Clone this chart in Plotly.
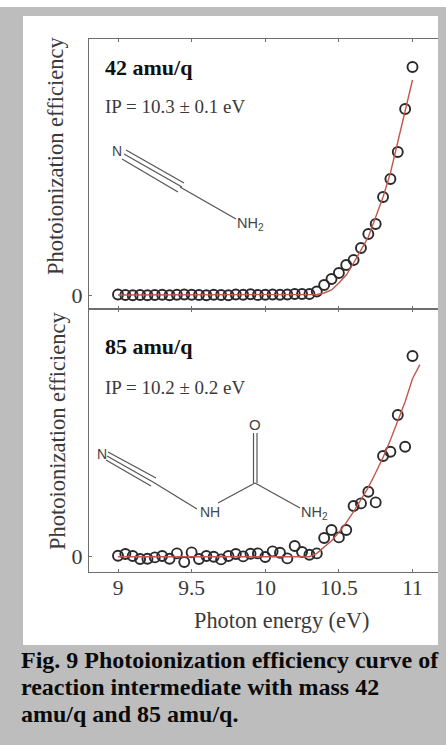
import plotly.graph_objects as go
from plotly.subplots import make_subplots

W, H = 446, 745

energy = [9.0, 9.05, 9.1, 9.15, 9.2, 9.25, 9.3, 9.35, 9.4, 9.45, 9.5, 9.55, 9.6, 9.65, 9.7, 9.75, 9.8,
          9.85, 9.9, 9.95, 10.0, 10.05, 10.1, 10.15, 10.2, 10.25, 10.3, 10.35, 10.4, 10.45, 10.5,
          10.55, 10.6, 10.65, 10.7, 10.75, 10.8, 10.85, 10.9, 10.95, 11.0]
pie_42 = [0.5, 0, -0.3, 0, -0.3, 0, 0.3, -0.3, 0.3, 0.5, 0.3, 0, -0.3, 0.3, 0, -0.3, 0.5, 0.3, 0.7, 0, 0.3,
          0.5, 0.3, 0.5, 1, 1, 1, 3.5, 10, 16, 22, 30, 35, 47, 61, 71, 98, 116, 143, 186, 228]
pie_85 = [1, 2.7, 0.7, -2.3, -2, -0.7, 0.7, -2, 3.3, -5.3, 4.3, -2.3, 0.7, 0, -2.7, 0.7, 2.7, 0.3, 3, 3.3,
          -0.3, 5.3, 4, -1.7, 10.7, 4.7, 2, 3.3, 18.7, 26.7, 19.3, 26.7, 50.7, 53.3, 65, 54.3, 100.7,
          105, 141.7, 110, 200.7]
fit_x_42 = [9.0, 10.25, 10.3, 10.35, 10.4, 10.45, 10.5, 10.55, 10.6, 10.65, 10.7, 10.75, 10.8, 10.85,
            10.9, 10.95, 11.0]
fit_y_42 = [0, 0, 0, 0.5, 2, 5, 12, 20, 32, 45, 58, 78, 98, 122, 152, 185, 215]
fit_x_85 = [9.0, 10.3, 10.35, 10.4, 10.45, 10.5, 10.55, 10.6, 10.65, 10.7, 10.75, 10.8, 10.85, 10.9,
            10.95, 11.0, 11.05]
fit_y_85 = [0, 0, 3.3, 9.3, 16, 24.3, 34, 45, 56.7, 69.3, 84, 99.3, 116.7, 135, 155, 178, 192]
x_ticks = [9, 9.5, 10, 10.5, 11]
x_tick_labels = ["9", "9.5", "10", "10.5", "11"]

GREY, AXIS, INK = "#bdbdbd", "#6e6e6e", "#3a3a3a"
SERIF = "Liberation Serif"
SANS = "Liberation Sans"


def px(x):
    return x / W


def py(y):
    return 1 - y / H


fig = make_subplots(rows=2, cols=1)
fig.update_layout(
    width=W, height=H, margin=dict(l=0, r=0, t=0, b=0), autosize=False,
    paper_bgcolor="white", plot_bgcolor="rgba(0,0,0,0)", showlegend=False,
)

panels = [(1, pie_42, fit_x_42, fit_y_42), (2, pie_85, fit_x_85, fit_y_85)]
for row, pie, fx, fy in panels:
    fig.add_trace(go.Scatter(x=energy, y=pie, mode="markers",
                             marker=dict(symbol="circle-open", size=10, color="#2a2a2a",
                                         line=dict(width=1.9, color="#2a2a2a"))), row=row, col=1)
    fig.add_trace(go.Scatter(x=fx, y=fy, mode="lines", line=dict(color="#c4574c", width=1.4)), row=row, col=1)

axis_style = dict(showgrid=False, zeroline=False, showline=True, linecolor=AXIS, linewidth=1.2,
                  ticks="inside", ticklen=3, tickwidth=1.2, tickcolor=AXIS)
x_range = [9 - 29 / 147.25, 11 + 25.5 / 147.25]
x_dom = [px(89), px(438)]
fig.update_xaxes(range=x_range, domain=x_dom, mirror="ticks", tickvals=x_ticks, **axis_style)
fig.update_xaxes(showticklabels=False, row=1, col=1)
fig.update_xaxes(ticktext=x_tick_labels, showticklabels=True, ticklabelstandoff=-4,
                 tickfont=dict(family=SERIF, size=21.5, color=INK), row=2, col=1)
y_font = dict(family=SERIF, size=22, color=INK)
fig.update_yaxes(range=[-14, 256], domain=[py(309), py(39)], tickvals=[0], ticktext=["0"],
                 tickfont=y_font, ticklabelstandoff=1, row=1, col=1, **axis_style)
fig.update_yaxes(range=[-15.3, 247.7], domain=[py(572), py(309)], tickvals=[0], ticktext=["0"],
                 tickfont=y_font, ticklabelstandoff=1, row=2, col=1, **axis_style)

shapes = [
    dict(type="rect", xref="paper", yref="paper", x0=0, x1=1, y0=0, y1=py(7), fillcolor=GREY,
         line_width=0, layer="below"),
    dict(type="rect", xref="paper", yref="paper", x0=px(23), x1=px(438), y0=py(645), y1=py(16),
         fillcolor="white", line_width=0, layer="below"),
]
bonds = [
    (126, 150, 184, 183), (124, 154, 182, 187), (122, 159, 178, 192), (180, 187, 236, 219),
    (108, 452, 156, 478), (107, 456, 153, 482), (106, 460, 151, 486), (153, 482, 197, 509),
    (218, 503, 255, 483), (253.5, 483, 253.5, 433), (257, 483, 257, 433), (255, 483, 300, 508),
]
for x0, y0, x1, y1 in bonds:
    shapes.append(dict(type="line", xref="paper", yref="paper", x0=px(x0), x1=px(x1), y0=py(y0), y1=py(y1),
                       line=dict(color="#555555", width=1.2)))
fig.update_layout(shapes=shapes)


def text(x, y, s, size, family=SERIF, color=INK, anchor="left", angle=0):
    fig.add_annotation(xref="paper", yref="paper", x=px(x), y=py(y), text=s, showarrow=False, xanchor=anchor,
                       yanchor="middle", textangle=angle, align="left", borderpad=0,
                       font=dict(family=family, size=size, color=color))


text(104, 67, "<b>42 amu/q</b>", 22, color="#111111")
text(104, 107, "IP = 10.3 ± 0.1 eV", 19)
text(104, 346, "<b>85 amu/q</b>", 22, color="#111111")
text(104, 387, "IP = 10.2 ± 0.2 eV", 19)
text(55, 156, "Photoionization efficiency", 22.5, anchor="center", angle=-90)
text(57, 431, "Photoionization efficiency", 22.5, anchor="center", angle=-90)
text(281, 620, "Photon energy (eV)", 22.3, anchor="center")
text(117, 151, "N", 14, SANS, "#444444", "center")
text(251, 224, "NH<sub>2</sub>", 14.5, SANS, "#444444", "center")
text(102, 454, "N", 14, SANS, "#444444", "center")
text(210, 512, "NH", 14, SANS, "#444444", "center")
text(255, 424, "O", 15, SANS, "#444444", "center")
text(314, 513, "NH<sub>2</sub>", 14.5, SANS, "#444444", "center")
text(20, 660, "<b>Fig. 9 Photoionization efficiency curve of</b>", 24, color="#0a0a0a")
text(20, 687, "<b>reaction intermediate with mass 42</b>", 24, color="#0a0a0a")
text(20, 714, "<b>amu/q and 85 amu/q.</b>", 24, color="#0a0a0a")

fig.write_html("out.html", config=dict(displayModeBar=False),
               post_script="document.body.style.margin='0';document.body.style.overflow='hidden';")
